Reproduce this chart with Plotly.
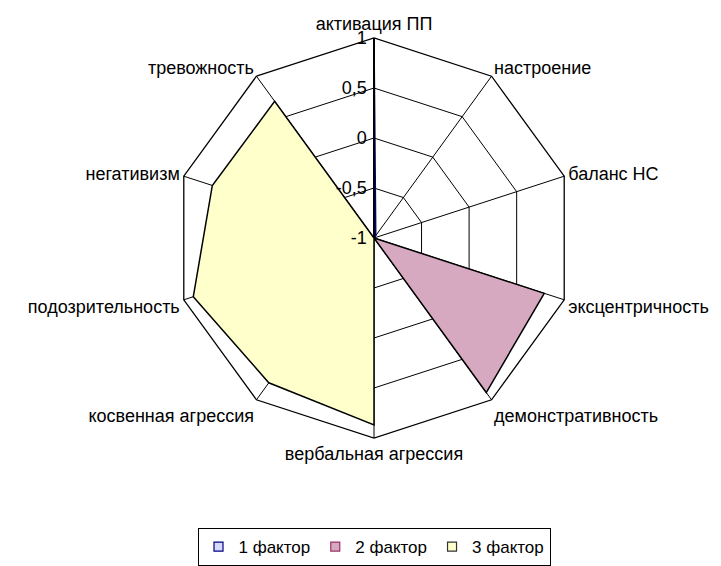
import plotly.graph_objects as go

categories = ["активация ПП", "настроение", "баланс НС", "эксцентричность",
              "демонстративность", "вербальная агрессия", "косвенная агрессия",
              "подозрительность", "негативизм", "тревожность"]
factor1 = [1.0, -0.97, -1, -1, -1, -1, -1, -1, -1, -1]
factor2 = [-1, -1, -1, 0.79, 0.91, -1, -1, -1, -1, -1]
factor3 = [-1, -1, -1, -1, -1, 0.87, 0.79, 0.90, 0.70, 0.69]
series_names = ["1 фактор", "2 фактор", "3 фактор"]
tick_vals = [-1, -0.5, 0, 0.5, 1]
tick_text = ["-1", "-0,5", "0", "0,5", "1"]

line_colors = ["#000080", "#000000", "#000000"]
fill_colors = ["rgba(190,190,255,0.6)", "#d6a9c0", "#ffffcc"]
legend_borders = ["#000080", "#993366", "#333333"]

fig = go.Figure()
for name, vals, lc, fc in zip(series_names, [factor1, factor2, factor3], line_colors, fill_colors):
    fig.add_trace(go.Scatterpolar(
        r=vals + vals[:1], theta=categories + categories[:1],
        name=name, mode="lines", fill="toself", showlegend=False,
        line=dict(color=lc, width=1.5), fillcolor=fc))
# legend entries with square symbols
for name, lb, fc in zip(series_names, legend_borders, fill_colors):
    fig.add_trace(go.Scatterpolar(
        r=[None], theta=[categories[0]], name=name, mode="markers",
        marker=dict(symbol="square", size=9, color=fc,
                    line=dict(color=lb, width=1.2))))

fig.update_layout(
    width=721, height=566,
    margin=dict(l=11, r=0, t=30, b=136),
    paper_bgcolor="white",
    font=dict(family="Liberation Sans, Arial, sans-serif", size=18, color="black"),
    showlegend=True,
    legend=dict(orientation="h", x=0.5, xanchor="center", y=-0.225, yanchor="top",
                bordercolor="black", borderwidth=1, font=dict(size=17),
                itemwidth=30),
    polar=dict(
        bgcolor="white",
        gridshape="linear",
        angularaxis=dict(direction="clockwise", rotation=90,
                         linecolor="black", linewidth=1.3,
                         gridcolor="black", gridwidth=1.2,
                         showline=True, ticks="",
                         tickfont=dict(size=18)),
        radialaxis=dict(range=[-1, 1], angle=90, side="counterclockwise",
                        tickvals=tick_vals, ticktext=tick_text,
                        showline=True, linecolor="black", linewidth=2,
                        gridcolor="black", gridwidth=1.2,
                        ticks="", tickfont=dict(size=18), tickangle=90),
    ),
)

fig.write_html("out.html")
